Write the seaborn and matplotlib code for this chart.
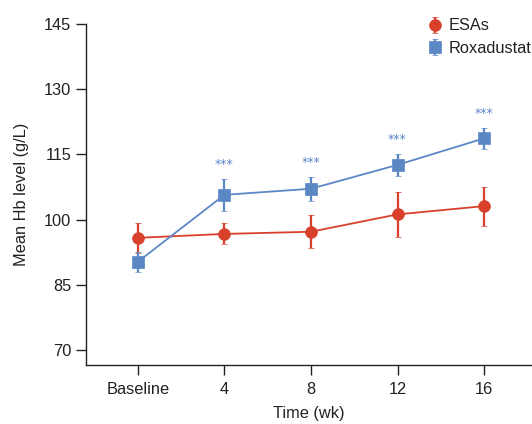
import matplotlib
matplotlib.use("Agg")
import matplotlib.pyplot as plt
import seaborn as sns
import pandas as pd
from matplotlib import font_manager

sns.set_theme(style="ticks")
names = {f.name for f in font_manager.fontManager.ttflist}
fam = "Liberation Sans Narrow" if "Liberation Sans Narrow" in names else "Liberation Sans"
plt.rcParams["font.family"] = [fam, "DejaVu Sans"]

time_labels = ["Baseline", "4", "8", "12", "16"]
esa_mean = [95.8, 96.7, 97.2, 101.2, 103.1]
esa_err = [3.4, 2.4, 3.8, 5.2, 4.5]
rox_mean = [90.3, 105.7, 107.1, 112.6, 118.7]
rox_err = [2.3, 3.7, 2.8, 2.5, 2.5]
star_y = [112.7, 113.2, 118.5, 124.5]
y_ticks = [70, 85, 100, 115, 130, 145]

red = "#d8402b"
blue = "#5b87c5"
txt = "#222222"
fs = 11.8

pos = list(range(len(time_labels)))
df = pd.DataFrame({
    "pos": pos * 2,
    "Hb": esa_mean + rox_mean,
    "err": esa_err + rox_err,
    "group": ["ESAs"] * 5 + ["Roxadustat"] * 5,
})

fig = plt.figure(figsize=(5.32, 4.24), dpi=100)
ax = fig.add_axes([0.1617, 0.139, 0.836, 0.804])

sns.lineplot(data=df, x="pos", y="Hb", hue="group",
             palette={"ESAs": red, "Roxadustat": blue},
             linewidth=1.3, ax=ax, legend=False, zorder=2)

handles = []
for g, c, m in [("ESAs", red, "o"), ("Roxadustat", blue, "s")]:
    sub = df[df.group == g]
    h = ax.errorbar(sub["pos"], sub["Hb"], yerr=sub["err"], fmt=m, color=c,
                    mfc=c, mec=c, ms=8.5, mew=0.5, elinewidth=1.6,
                    capsize=2.3, capthick=1.6, label=g, zorder=3)
    handles.append(h)

for p, y in zip(pos[1:], star_y):
    ax.text(p, y, "***", color=blue, ha="center", va="center", fontsize=9,
            family="DejaVu Sans")

ax.set_xlim(-0.6, 4.54)
ax.set_ylim(66.5, 145)
ax.set_xticks(pos)
ax.set_xticklabels(time_labels)
ax.set_yticks(y_ticks)
ax.set_xlabel("Time (wk)", fontsize=fs, color=txt, labelpad=7)
ax.set_ylabel("Mean Hb level (g/L)", fontsize=fs, color=txt, labelpad=11)
ax.tick_params(axis="both", labelsize=fs, colors=txt, length=7, width=1, direction="out")
ax.tick_params(axis="x", pad=5)
for s in ["top", "right"]:
    ax.spines[s].set_visible(False)
for s in ["left", "bottom"]:
    ax.spines[s].set_color(txt)
    ax.spines[s].set_linewidth(1)

leg = ax.legend(handles=handles, labels=["ESAs", "Roxadustat"], loc="upper right",
                bbox_to_anchor=(1.035, 1.06), frameon=False, fontsize=fs,
                handlelength=0.8, handletextpad=0.45, labelspacing=0.45)
for t in leg.get_texts():
    t.set_color(txt)

fig.savefig("out.png", dpi=100)
